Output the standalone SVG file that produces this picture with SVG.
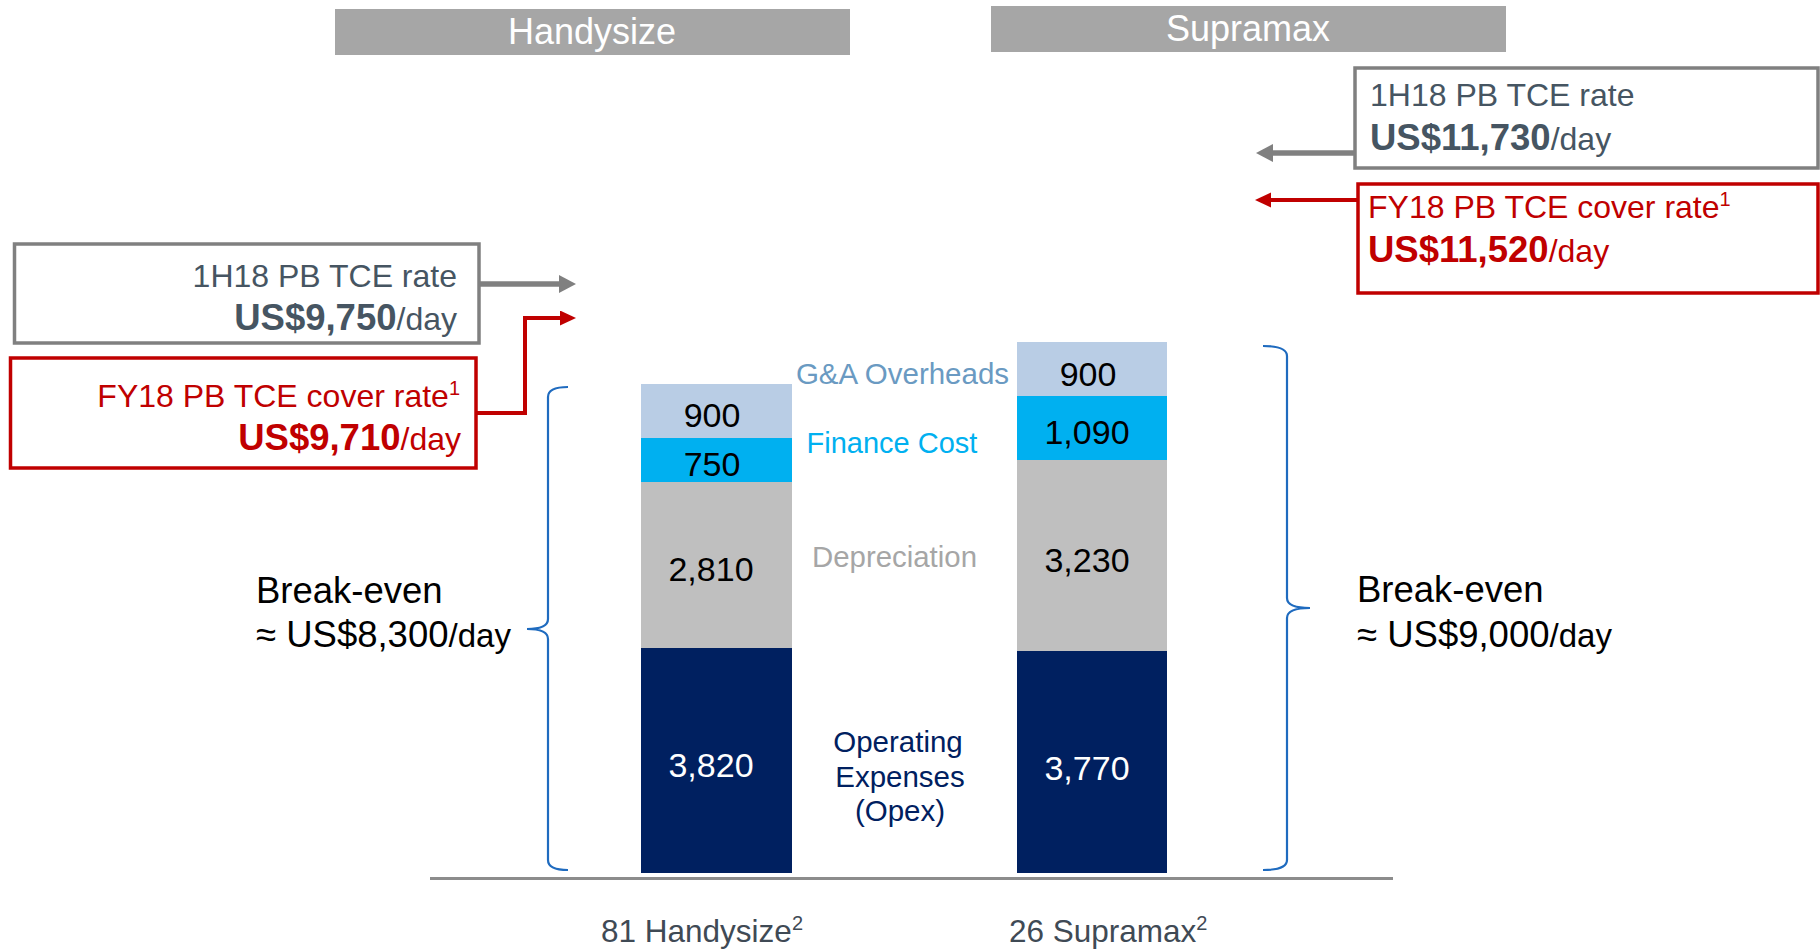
<svg xmlns="http://www.w3.org/2000/svg" width="1820" height="951" viewBox="0 0 1820 951">
<style>
text{font-family:"Liberation Sans",Arial,sans-serif}
.hdr{fill:#A6A6A6}
.hdrt{fill:#FFFFFF;font-size:36px;text-anchor:middle}
.gbox{fill:#FFFFFF;stroke:#808080;stroke-width:3.5}
.rbox{fill:#FFFFFF;stroke:#C00000;stroke-width:3.5}
.gt{fill:#465562;font-size:32px}
.rt{fill:#C00000;font-size:32px}
.big{font-weight:bold;font-size:36.5px}
.val{font-size:34px;text-anchor:middle;fill:#000000}
.be{font-size:36.5px;fill:#000000}
.brace{fill:none;stroke:#1F6BBF;stroke-width:2.2}
.foot{font-size:31.5px;fill:#3F4A55}
</style>
<defs>
<marker id="ag" markerUnits="userSpaceOnUse" markerWidth="18" markerHeight="18" refX="0" refY="9" orient="auto"><path d="M0,0 L17,9 L0,18 z" fill="#808080"/></marker>
<marker id="ar" markerUnits="userSpaceOnUse" markerWidth="16" markerHeight="16" refX="0" refY="7.5" orient="auto"><path d="M0,0 L16,7.5 L0,15 z" fill="#C00000"/></marker>
</defs>

<g id="header-handysize">
<rect class="hdr" x="335" y="9" width="515" height="46"/>
<text class="hdrt" x="592" y="44">Handysize</text>
</g>
<g id="header-supramax">
<rect class="hdr" x="991" y="6" width="515" height="46"/>
<text class="hdrt" x="1248" y="41">Supramax</text>
</g>

<g id="hs-1h18">
<rect class="gbox" x="14.5" y="244" width="464.5" height="99"/>
<text class="gt" x="457" y="287" text-anchor="end">1H18 PB TCE rate</text>
<text class="gt" x="457" y="330" text-anchor="end"><tspan class="big">US$9,750</tspan>/day</text>
</g>
<g id="hs-fy18">
<rect class="rbox" x="10.5" y="358" width="465.5" height="110"/>
<text class="rt" x="460" y="407" text-anchor="end">FY18 PB TCE cover rate<tspan font-size="20" dy="-12">1</tspan></text>
<text class="rt" x="461" y="450" text-anchor="end"><tspan class="big">US$9,710</tspan>/day</text>
</g>

<g id="sm-1h18">
<rect class="gbox" x="1355" y="68" width="463" height="100"/>
<text class="gt" x="1370" y="106">1H18 PB TCE rate</text>
<text class="gt" x="1370" y="150"><tspan class="big">US$11,730</tspan>/day</text>
</g>
<g id="sm-fy18">
<rect class="rbox" x="1358" y="184" width="460" height="109"/>
<text class="rt" x="1368" y="218">FY18 PB TCE cover rate<tspan font-size="20" dy="-12">1</tspan></text>
<text class="rt" x="1368" y="262"><tspan class="big">US$11,520</tspan>/day</text>
</g>

<g id="connectors">
<path d="M479,284 H559" fill="none" stroke="#808080" stroke-width="5.5" marker-end="url(#ag)"/>
<path d="M476,413 H525 V318 H560" fill="none" stroke="#C00000" stroke-width="4" marker-end="url(#ar)"/>
<path d="M1355,153 H1273" fill="none" stroke="#808080" stroke-width="5.5" marker-end="url(#ag)"/>
<path d="M1358,200 H1271" fill="none" stroke="#C00000" stroke-width="4" marker-end="url(#ar)"/>
</g>

<g id="axis">
<line x1="430" y1="878.5" x2="1393" y2="878.5" stroke="#8C8C8C" stroke-width="3"/>
</g>

<g id="bar-handysize">
<rect x="641" y="384" width="151" height="54" fill="#B9CDE5"/>
<rect x="641" y="438" width="151" height="44" fill="#00B0F0"/>
<rect x="641" y="482" width="151" height="166" fill="#BFBFBF"/>
<rect x="641" y="648" width="151" height="225" fill="#002060"/>
<text class="val" x="712" y="427">900</text>
<text class="val" x="712" y="476">750</text>
<text class="val" x="711" y="581">2,810</text>
<text class="val" x="711" y="777" style="fill:#FFFFFF">3,820</text>
</g>

<g id="bar-supramax">
<rect x="1017" y="342" width="150" height="54" fill="#B9CDE5"/>
<rect x="1017" y="396" width="150" height="64" fill="#00B0F0"/>
<rect x="1017" y="460" width="150" height="191" fill="#BFBFBF"/>
<rect x="1017" y="651" width="150" height="222" fill="#002060"/>
<text class="val" x="1088" y="386">900</text>
<text class="val" x="1087" y="444">1,090</text>
<text class="val" x="1087" y="572">3,230</text>
<text class="val" x="1087" y="780" style="fill:#FFFFFF">3,770</text>
</g>

<g id="legend">
<text x="902.5" y="384" font-size="29.5" fill="#6A9AC2" text-anchor="middle">G&amp;A Overheads</text>
<text x="892" y="453" font-size="29" fill="#00B0F0" text-anchor="middle">Finance Cost</text>
<text x="894.5" y="567" font-size="29.4" fill="#A6A6A6" text-anchor="middle">Depreciation</text>
<text x="898" y="752" font-size="29.5" fill="#002060" text-anchor="middle">Operating</text>
<text x="900" y="787" font-size="29.5" fill="#002060" text-anchor="middle">Expenses</text>
<text x="900" y="821" font-size="29.5" fill="#002060" text-anchor="middle">(Opex)</text>
</g>

<g id="brace-handysize">
<path class="brace" d="M568,387 Q548,387 548,397 V619 Q548,629 527,629 Q548,629 548,639 V860 Q548,870 568,870"/>
<text class="be" x="256" y="603">Break-even</text>
<text class="be" x="256" y="647">≈ US$8,300<tspan font-size="33">/day</tspan></text>
</g>

<g id="brace-supramax">
<path class="brace" d="M1263,346 Q1287,346 1287,356 V598 Q1287,608 1310,608 Q1287,608 1287,618 V860 Q1287,870 1263,870"/>
<text class="be" x="1357" y="602">Break-even</text>
<text class="be" x="1357" y="647">≈ US$9,000<tspan font-size="33">/day</tspan></text>
</g>

<g id="footers">
<text class="foot" x="601" y="942">81 Handysize<tspan font-size="20" dy="-12">2</tspan></text>
<text class="foot" x="1009" y="942">26 Supramax<tspan font-size="20" dy="-12">2</tspan></text>
</g>
</svg>
